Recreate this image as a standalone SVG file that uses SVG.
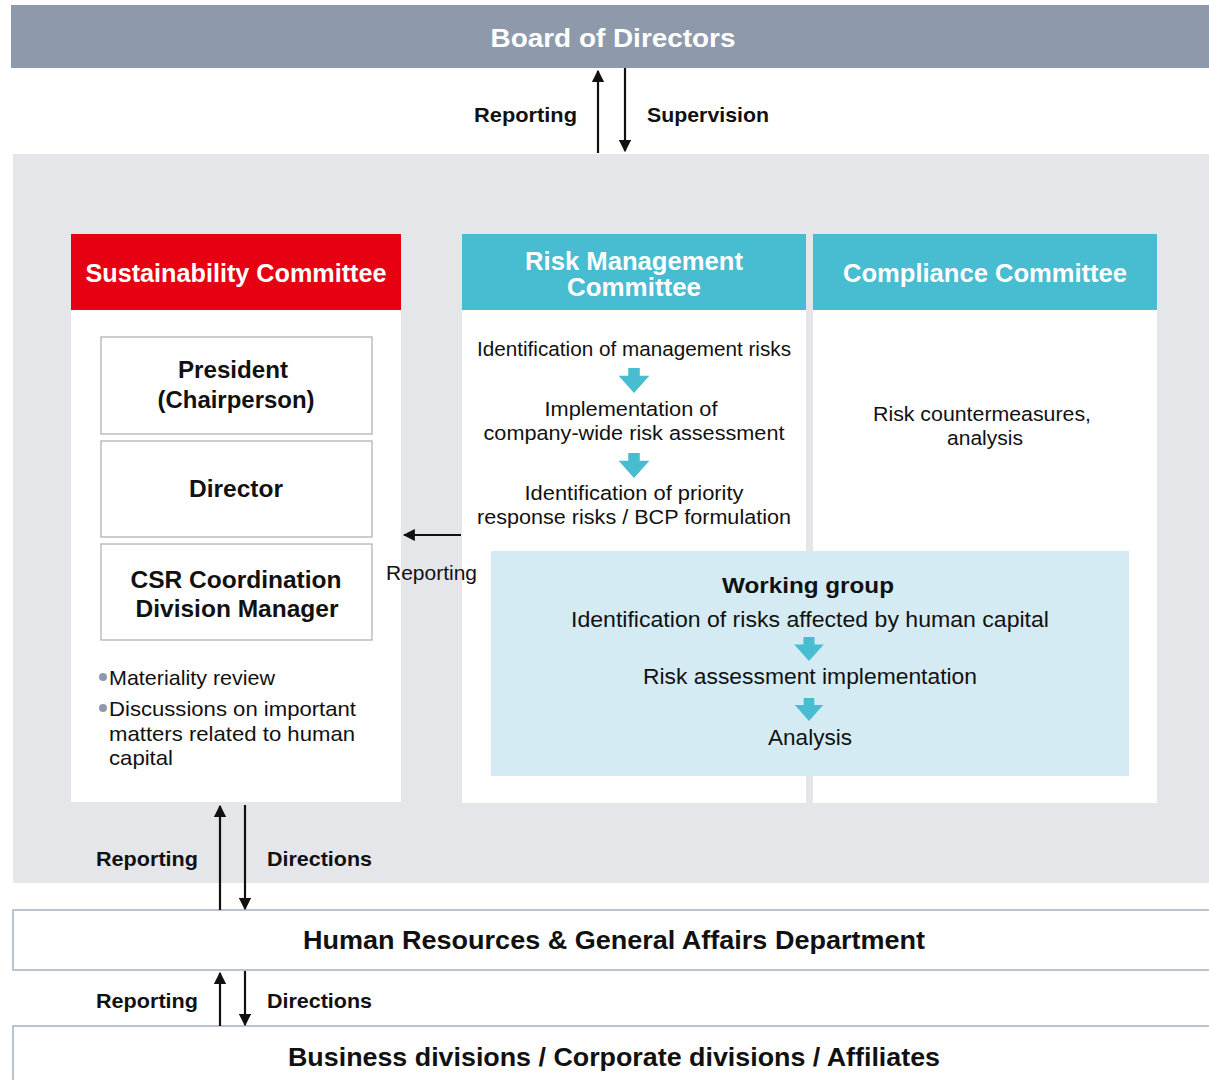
<svg xmlns="http://www.w3.org/2000/svg" width="1209" height="1080" viewBox="0 0 1209 1080">
<defs>
<style>
text{font-family:"Liberation Sans",Arial,sans-serif;fill:#111;}
.hd{font-weight:bold;fill:#fff;font-size:25px;text-anchor:middle;}
.bx{fill:#fff;stroke:#a7adb6;stroke-width:1.2;}
.bt{font-size:24px;font-weight:bold;text-anchor:middle;}
.t{font-size:20.5px;text-anchor:middle;}
.w{font-size:22.5px;text-anchor:middle;}
.lb{font-size:21px;font-weight:bold;}
.ln{stroke:#111;stroke-width:2.2;fill:none;}
.dept{fill:#fff;stroke:#a7b0bf;stroke-width:1.5;}
.dt{font-size:26.5px;font-weight:bold;text-anchor:middle;fill:#111;}
.ca{fill:#48bcd0;}
</style>
<marker id="ah" viewBox="0 0 10 10" refX="9" refY="5" markerWidth="5.5" markerHeight="5.5" orient="auto" markerUnits="strokeWidth">
<path d="M0,0 L10,5 L0,10 Z" fill="#111"/>
</marker>
<symbol id="darr" viewBox="0 0 32 26" overflow="visible">
<path d="M10,0 H22 V8 H32 L16,26 L0,8 H10 Z"/>
</symbol>
</defs>
<rect width="1209" height="1080" fill="#fff"/>

<g id="board">
<rect x="11" y="5" width="1198" height="63" fill="#8e9aab"/>
<text x="613" y="47" class="hd" font-size="27" textLength="245" lengthAdjust="spacingAndGlyphs">Board of Directors</text>
</g>

<rect id="panel" x="13" y="154" width="1196" height="729" fill="#e5e6ea"/>

<g id="sustainability">
<rect x="71" y="234" width="330" height="568" fill="#fff"/>
<rect x="71" y="234" width="330" height="76" fill="#e60012"/>
<text x="236" y="282" class="hd" textLength="301" lengthAdjust="spacingAndGlyphs">Sustainability Committee</text>
</g>
<g id="president">
<rect class="bx" x="101" y="337" width="271" height="97"/>
<text x="233" y="378" class="bt" textLength="110" lengthAdjust="spacingAndGlyphs">President</text>
<text x="236" y="408" class="bt" textLength="157" lengthAdjust="spacingAndGlyphs">(Chairperson)</text>
</g>
<g id="director">
<rect class="bx" x="101" y="441" width="271" height="96"/>
<text x="236" y="497" class="bt" textLength="94" lengthAdjust="spacingAndGlyphs">Director</text>
</g>
<g id="csr">
<rect class="bx" x="101" y="544" width="271" height="96"/>
<text x="236" y="588" class="bt" textLength="211" lengthAdjust="spacingAndGlyphs">CSR Coordination</text>
<text x="237" y="617" class="bt" textLength="203" lengthAdjust="spacingAndGlyphs">Division Manager</text>
</g>
<g id="sust-notes">
<circle cx="103" cy="677" r="4" fill="#8e9aab"/>
<text x="109" y="685" font-size="21" textLength="166" lengthAdjust="spacingAndGlyphs">Materiality review</text>
<circle cx="103" cy="708" r="4" fill="#8e9aab"/>
<text x="109" y="716" font-size="21" textLength="247" lengthAdjust="spacingAndGlyphs">Discussions on important</text>
<text x="109" y="741" font-size="21" textLength="246" lengthAdjust="spacingAndGlyphs">matters related to human</text>
<text x="109" y="765" font-size="21" textLength="64" lengthAdjust="spacingAndGlyphs">capital</text>
</g>

<g id="risk">
<rect x="462" y="234" width="344" height="569" fill="#fff"/>
<rect x="462" y="234" width="344" height="76" fill="#48bcd0"/>
<text x="634" y="270" class="hd" textLength="218" lengthAdjust="spacingAndGlyphs">Risk Management</text>
<text x="634" y="296" class="hd" textLength="134" lengthAdjust="spacingAndGlyphs">Committee</text>
<text x="634" y="356" class="t" textLength="314" lengthAdjust="spacingAndGlyphs">Identification of management risks</text>
<use href="#darr" x="618" y="368" width="32" height="25" class="ca"/>
<text x="631" y="416" class="t" textLength="173" lengthAdjust="spacingAndGlyphs">Implementation of</text>
<text x="634" y="440" class="t" textLength="301" lengthAdjust="spacingAndGlyphs">company-wide risk assessment</text>
<use href="#darr" x="618" y="453" width="32" height="25" class="ca"/>
<text x="634" y="500" class="t" textLength="219" lengthAdjust="spacingAndGlyphs">Identification of priority</text>
<text x="634" y="524" class="t" textLength="314" lengthAdjust="spacingAndGlyphs">response risks / BCP formulation</text>
</g>

<g id="compliance">
<rect x="813" y="234" width="344" height="569" fill="#fff"/>
<rect x="813" y="234" width="344" height="76" fill="#48bcd0"/>
<text x="985" y="282" class="hd" textLength="284" lengthAdjust="spacingAndGlyphs">Compliance Committee</text>
<text x="982" y="421" class="t" textLength="218" lengthAdjust="spacingAndGlyphs">Risk countermeasures,</text>
<text x="985" y="445" class="t" textLength="76" lengthAdjust="spacingAndGlyphs">analysis</text>
</g>

<g id="working-group">
<rect x="491" y="551" width="638" height="225" fill="#d4ebf3"/>
<text x="808" y="593" class="w" font-weight="bold" font-size="24" textLength="172" lengthAdjust="spacingAndGlyphs">Working group</text>
<text x="810" y="627" class="w" textLength="478" lengthAdjust="spacingAndGlyphs">Identification of risks affected by human capital</text>
<use href="#darr" x="793" y="637" width="32" height="24" class="ca"/>
<text x="810" y="684" class="w" textLength="334" lengthAdjust="spacingAndGlyphs">Risk assessment implementation</text>
<use href="#darr" x="793" y="698" width="32" height="23" class="ca"/>
<text x="810" y="745" class="w" textLength="84" lengthAdjust="spacingAndGlyphs">Analysis</text>
</g>

<g id="hr">
<rect class="dept" x="13" y="910" width="1200" height="60"/>
<text x="614" y="949" class="dt" textLength="622" lengthAdjust="spacingAndGlyphs">Human Resources &amp; General Affairs Department</text>
</g>
<g id="business">
<rect class="dept" x="13" y="1026" width="1200" height="60"/>
<text x="614" y="1066" class="dt" textLength="652" lengthAdjust="spacingAndGlyphs">Business divisions / Corporate divisions / Affiliates</text>
</g>

<g id="connectors">
<line class="ln" x1="598" y1="153" x2="598" y2="71" marker-end="url(#ah)"/>
<line class="ln" x1="625" y1="68" x2="625" y2="151" marker-end="url(#ah)"/>
<text x="474" y="122" class="lb" textLength="103" lengthAdjust="spacingAndGlyphs">Reporting</text>
<text x="647" y="122" class="lb" textLength="122" lengthAdjust="spacingAndGlyphs">Supervision</text>

<line class="ln" x1="461" y1="535" x2="404" y2="535" marker-end="url(#ah)"/>
<text x="386" y="580" font-size="19.5" textLength="91" lengthAdjust="spacingAndGlyphs">Reporting</text>

<line class="ln" x1="220" y1="910" x2="220" y2="806" marker-end="url(#ah)"/>
<line class="ln" x1="245" y1="805" x2="245" y2="909" marker-end="url(#ah)"/>
<text x="96" y="866" class="lb" textLength="102" lengthAdjust="spacingAndGlyphs">Reporting</text>
<text x="267" y="866" class="lb" textLength="105" lengthAdjust="spacingAndGlyphs">Directions</text>

<line class="ln" x1="220" y1="1026" x2="220" y2="973" marker-end="url(#ah)"/>
<line class="ln" x1="245" y1="971" x2="245" y2="1025" marker-end="url(#ah)"/>
<text x="96" y="1008" class="lb" textLength="102" lengthAdjust="spacingAndGlyphs">Reporting</text>
<text x="267" y="1008" class="lb" textLength="105" lengthAdjust="spacingAndGlyphs">Directions</text>
</g>
</svg>
